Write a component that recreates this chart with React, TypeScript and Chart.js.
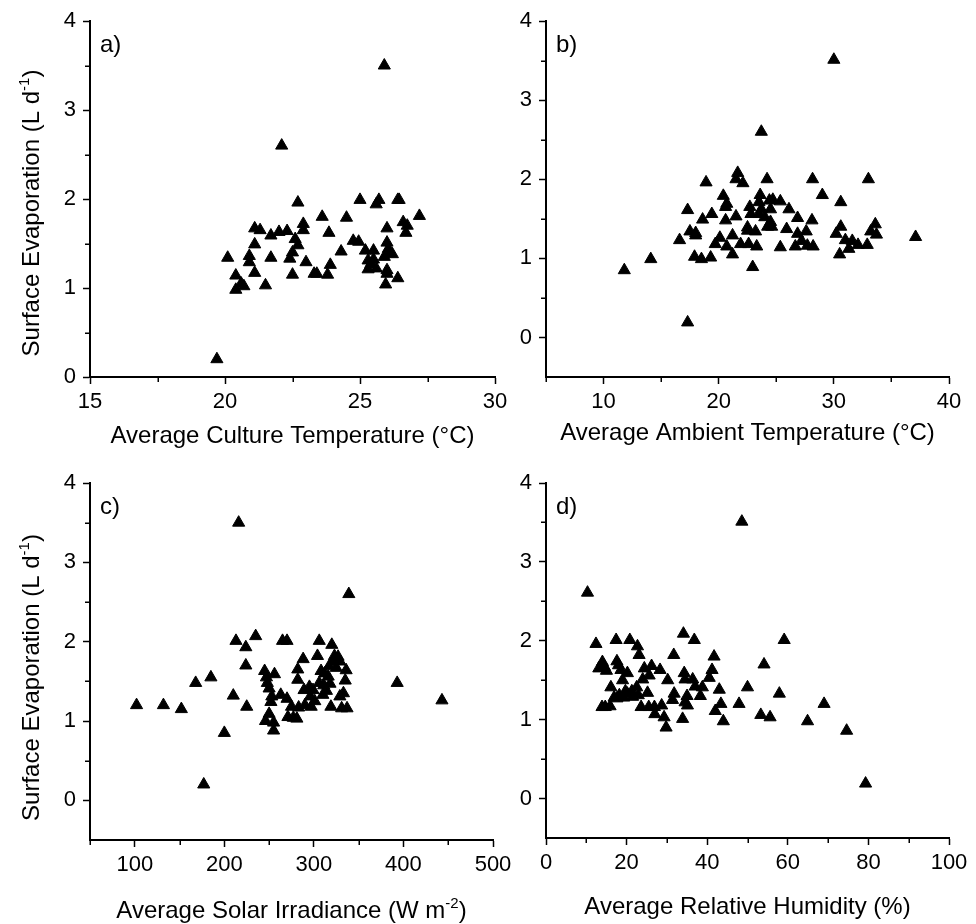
import React, { useEffect, useRef } from "react";
import { Chart, registerables } from "chart.js";

Chart.register(...registerables);

const FONT = "'Liberation Sans', Arial, Helvetica, sans-serif";

// ---------- Data ----------
// a) Average culture temperature (°C) vs surface evaporation (L d-1)
const cultureTemp = [
  19.7, 25.9, 22.1, 20.1, 20.4, 20.4, 20.6, 20.7, 20.9, 20.9, 21.1, 21.1, 21.1, 21.3, 21.5,
  21.7, 21.7, 22.0, 22.3, 22.4, 22.5, 22.5, 22.6, 22.7, 22.7, 22.9, 22.9, 23.0, 23.3, 23.4,
  23.6, 23.8, 23.85, 23.9, 24.3, 24.5, 24.75, 24.95, 25.0, 25.2, 25.3, 25.3, 25.4, 25.5, 25.5,
  25.6, 25.6, 25.7, 25.9, 25.95, 26.0, 26.0, 26.0, 26.05, 26.1, 26.0, 26.2, 26.4, 26.45, 26.4,
  26.6, 26.7, 26.75, 27.2,
];
const evapA = [
  0.2, 3.5, 2.6, 1.34, 1.14, 0.98, 1.05, 1.02, 1.36, 1.29, 1.17, 1.49, 1.67, 1.65, 1.03,
  1.59, 1.34, 1.63, 1.64, 1.33, 1.40, 1.15, 1.55, 1.48, 1.96, 1.72, 1.65, 1.29, 1.16, 1.16,
  1.80, 1.15, 1.62, 1.26, 1.41, 1.79, 1.53, 1.52, 1.99, 1.42, 1.31, 1.21, 1.27, 1.42, 1.32,
  1.22, 1.94, 1.99, 1.35, 1.04, 1.67, 1.51, 1.20, 1.44, 1.39, 1.16, 1.38, 1.99, 1.99, 1.11,
  1.74, 1.62, 1.70, 1.81,
];

// b) Average ambient temperature (°C)
const ambientTemp = [
  11.8, 14.1, 17.3, 16.6, 17.3, 17.5, 18.0, 18.0, 17.9, 18.5, 18.6, 18.9, 19.4, 19.3, 19.7,
  20.1, 20.4, 20.6, 20.7, 20.6, 20.7, 21.2, 21.2, 21.5, 21.65, 21.5, 22.1, 21.9, 22.5, 22.5,
  22.6, 22.7, 22.8, 22.95, 23.2, 23.3, 23.5, 23.5, 23.6, 23.7, 23.7, 24.0, 24.2, 24.25, 24.4,
  24.5, 24.5, 24.6, 24.7, 25.35, 25.35, 26.1, 25.9, 26.65, 26.85, 26.85, 27.2, 27.6, 27.7, 28.1,
  28.15, 28.2, 29.0, 30.0, 30.2, 30.6, 30.6, 30.5, 31.0, 31.3, 31.6, 32.1, 32.9, 33.0, 33.2,
  33.6, 33.7, 37.1,
];
const evapB = [
  0.85, 0.99, 0.19, 1.23, 1.61, 1.34, 1.32, 1.29, 1.02, 0.99, 1.49, 1.96, 1.56, 1.01, 1.18,
  1.26, 1.79, 1.65, 1.69, 1.48, 1.15, 1.29, 1.05, 1.53, 2.08, 2.00, 1.95, 1.18, 1.35, 1.39,
  1.18, 1.65, 1.56, 0.89, 1.34, 1.15, 1.71, 1.56, 1.80, 2.60, 1.62, 1.52, 2.00, 1.40, 1.73,
  1.46, 1.62, 1.40, 1.74, 1.72, 1.14, 1.62, 1.37, 1.15, 1.51, 1.31, 1.22, 1.34, 1.16, 1.48,
  2.00, 1.15, 1.80, 3.51, 1.31, 1.71, 1.40, 1.05, 1.23, 1.12, 1.22, 1.17, 1.17, 2.00, 1.34,
  1.43, 1.30, 1.27,
];

// c) Average solar irradiance (W m-2)
const solarIrr = [
  102, 132, 152, 168, 185, 177, 200, 210, 213, 216, 224, 224, 225, 235, 245,
  247, 248, 250, 246, 250, 253, 252, 255, 255, 256, 263, 265, 270, 270, 271,
  275, 277, 281, 282, 282, 283, 288, 289, 290, 295, 296, 297, 299, 301, 304,
  306, 306, 308, 310, 311, 312, 314, 316, 317, 318, 319, 320, 321, 323, 325,
  327, 329, 329, 331, 333, 335, 336, 337, 339, 393, 443,
];
const evapC = [
  1.20, 1.20, 1.15, 1.48, 1.55, 0.20, 0.85, 1.32, 2.01, 3.50, 1.93, 1.70, 1.18, 2.07, 1.63,
  1.55, 1.48, 1.41, 1.00, 1.09, 1.31, 1.24, 0.98, 0.88, 1.59, 1.33, 2.01, 2.01, 1.28, 1.05,
  1.18, 1.04, 1.03, 1.65, 1.52, 1.17, 1.78, 1.39, 1.20, 1.43, 1.31, 1.18, 1.39, 1.25, 1.82,
  2.01, 1.48, 1.63, 1.33, 1.45, 1.60, 1.38, 1.56, 1.69, 1.47, 1.18, 1.96, 1.75, 1.82, 1.67,
  1.81, 1.75, 1.31, 1.16, 1.35, 1.51, 1.64, 1.16, 2.60, 1.48, 1.26,
];

// d) Average relative humidity (%)
const humidity = [
  10.3, 12.4, 13.1, 14.0, 14.5, 15.0, 13.9, 14.7, 15.9, 16.1, 17.4, 17.6, 18.0, 16.9, 17.6,
  18.2, 18.6, 19.0, 19.3, 19.7, 20.2, 20.2, 20.8, 21.3, 21.5, 22.5, 22.7, 23.1, 22.9, 23.6,
  24.0, 24.4, 25.2, 25.5, 25.6, 26.2, 26.9, 27.0, 28.3, 28.7, 29.3, 29.8, 30.2, 31.4, 31.7,
  31.8, 33.9, 34.1, 34.3, 34.5, 34.5, 35.0, 35.1, 36.4, 36.8, 37.0, 38.3, 38.8, 40.5, 41.2,
  41.7, 42.0, 43.0, 43.4, 44.0, 47.9, 48.6, 50.0, 53.3, 54.1, 55.6, 57.9, 59.1, 64.9, 69.0,
  74.6, 79.3,
];
const evapD = [
  2.61, 1.96, 1.65, 1.73, 1.67, 1.62, 1.16, 1.16, 1.17, 1.41, 2.01, 1.74, 1.69, 1.28, 1.27,
  1.31, 1.63, 1.50, 1.28, 1.36, 1.59, 1.33, 2.01, 1.36, 1.29, 1.41, 1.93, 1.82, 1.31, 1.16,
  1.51, 1.65, 1.34, 1.16, 1.56, 1.68, 1.16, 1.07, 1.63, 1.18, 1.03, 0.90, 1.50, 1.25, 1.82,
  1.33, 1.01, 2.09, 1.59, 1.51, 1.22, 1.30, 1.18, 1.51, 2.01, 1.42, 1.30, 1.41, 1.53, 1.63,
  1.80, 1.11, 1.38, 1.20, 0.98, 1.20, 3.51, 1.41, 1.06, 1.70, 1.03, 1.33, 2.01, 0.98, 1.20,
  0.86, 0.19,
];

// ---------- Tick labels ----------
const evapTicks = [0, 1, 2, 3, 4];
const evapMinor = [0.5, 1.5, 2.5, 3.5];
const cultureTicks = [15, 20, 25, 30];
const cultureMinor = [17.5, 22.5, 27.5];
const ambientTicks = [10, 20, 30, 40];
const ambientMinor = [5, 15, 25, 35];
const solarTicks = [100, 200, 300, 400, 500];
const solarMinor = [50, 150, 250, 350, 450];
const humidityTicks = [0, 20, 40, 60, 80, 100];
const humidityMinor = [10, 30, 50, 70, 90];

type Part = { t: string; sup?: boolean };
const yTitle: Part[] = [{ t: "Surface Evaporation (L d" }, { t: "-1", sup: true }, { t: ")" }];

const PANELS = [
  {
    key: "a", label: "a)", xs: cultureTemp, ys: evapA,
    xMin: 15, xMax: 30, yMin: 0, yMax: 4,
    xTicks: cultureTicks, xMinor: cultureMinor, yTicks: evapTicks, yMinor: evapMinor,
    xTitle: [{ t: "Average Culture Temperature (°C)" }] as Part[], yTitle,
    left: 0, top: 0, w: 520, h: 456, padTop: 21, padRight: 25, yW: 90, xH: 79,
    xTitleBase: 443, yTitleX: 39, yTitleDy: 14,
  },
  {
    key: "b", label: "b)", xs: ambientTemp, ys: evapB,
    xMin: 5, xMax: 40, yMin: -0.5, yMax: 4,
    xTicks: ambientTicks, xMinor: ambientMinor, yTicks: evapTicks, yMinor: evapMinor,
    xTitle: [{ t: "Average Ambient Temperature (°C)" }] as Part[], yTitle: null,
    left: 488, top: 0, w: 488, h: 456, padTop: 21, padRight: 27, yW: 58, xH: 79,
    xTitleBase: 440, yTitleX: 0, yTitleDy: 0,
  },
  {
    key: "c", label: "c)", xs: solarIrr, ys: evapC,
    xMin: 50, xMax: 500, yMin: -0.5, yMax: 4,
    xTicks: solarTicks, xMinor: solarMinor, yTicks: evapTicks, yMinor: evapMinor,
    xTitle: [{ t: "Average Solar Irradiance (W m" }, { t: "-2", sup: true }, { t: ")" }] as Part[], yTitle,
    left: 0, top: 440, w: 520, h: 484, padTop: 43, padRight: 27, yW: 90, xH: 84,
    xTitleBase: 478, yTitleX: 39, yTitleDy: 16,
  },
  {
    key: "d", label: "d)", xs: humidity, ys: evapD,
    xMin: 0, xMax: 100, yMin: -0.5, yMax: 4,
    xTicks: humidityTicks, xMinor: humidityMinor, yTicks: evapTicks, yMinor: evapMinor,
    xTitle: [{ t: "Average Relative Humidity (%)" }] as Part[], yTitle: null,
    left: 488, top: 440, w: 488, h: 484, padTop: 43, padRight: 27, yW: 58, xH: 86,
    xTitleBase: 474, yTitleX: 0, yTitleDy: 0,
  },
];

const TICK_SIZE = 22;
const TITLE_SIZE = 24;

function drawRich(ctx: CanvasRenderingContext2D, parts: Part[], cx: number, base: number, size: number) {
  const mainF = `${size}px ${FONT}`;
  const supF = `${Math.round(size * 0.62)}px ${FONT}`;
  let total = 0;
  const widths: number[] = [];
  for (const p of parts) {
    ctx.font = p.sup ? supF : mainF;
    const w = ctx.measureText(p.t).width;
    widths.push(w);
    total += w;
  }
  let x = cx - total / 2;
  ctx.textAlign = "left";
  ctx.textBaseline = "alphabetic";
  parts.forEach((p, i) => {
    ctx.font = p.sup ? supF : mainF;
    ctx.fillText(p.t, x, p.sup ? base - size * 0.42 : base);
    x += widths[i];
  });
}

const decorPlugin = {
  id: "decor",
  afterDraw(chart: any) {
    const o = chart.options.plugins.decor;
    const { ctx, chartArea } = chart;
    const xs = chart.scales.x;
    const ys = chart.scales.y;
    ctx.save();
    ctx.strokeStyle = "#000";
    ctx.fillStyle = "#000";
    ctx.lineWidth = 1.5;
    ctx.beginPath();
    for (const v of o.xMinor) {
      const px = Math.round(xs.getPixelForValue(v)) + 0.25;
      ctx.moveTo(px, chartArea.bottom);
      ctx.lineTo(px, chartArea.bottom + 5);
    }
    for (const v of o.yMinor) {
      const py = Math.round(ys.getPixelForValue(v)) + 0.25;
      ctx.moveTo(chartArea.left - 5, py);
      ctx.lineTo(chartArea.left, py);
    }
    ctx.stroke();

    // panel label
    ctx.font = `24px ${FONT}`;
    ctx.textAlign = "left";
    ctx.textBaseline = "alphabetic";
    ctx.fillText(o.label, chartArea.left + 10, chartArea.top + 31);

    // x title
    drawRich(ctx, o.xTitle, (chartArea.left + chartArea.right) / 2, o.xTitleBase, TITLE_SIZE);

    // y title
    if (o.yTitle) {
      ctx.translate(o.yTitleX, (chartArea.top + chartArea.bottom) / 2 + o.yTitleDy);
      ctx.rotate(-Math.PI / 2);
      drawRich(ctx, o.yTitle, 0, 0, TITLE_SIZE);
    }
    ctx.restore();
  },
};

function Panel({ p }: { p: (typeof PANELS)[number] }) {
  const ref = useRef<HTMLCanvasElement>(null);
  useEffect(() => {
    const tickFont = { family: FONT, size: TICK_SIZE };
    const grid = {
      display: true,
      drawOnChartArea: false,
      drawTicks: true,
      tickLength: 7,
      tickWidth: 1.5,
      tickColor: "#000",
    };
    const border = { display: true, color: "#000", width: 2 };
    const chart = new Chart(ref.current as HTMLCanvasElement, {
      type: "scatter",
      data: {
        datasets: [
          {
            data: p.xs.map((x, i) => ({ x, y: p.ys[i] })),
            pointStyle: "triangle",
            radius: 7,
            hoverRadius: 7,
            backgroundColor: "#000",
            borderColor: "#000",
            borderWidth: 1,
          },
        ],
      },
      options: {
        responsive: false,
        animation: false,
        devicePixelRatio: 1,
        layout: { padding: { top: p.padTop, right: p.padRight, bottom: 0, left: 0 } },
        plugins: {
          legend: { display: false },
          tooltip: { enabled: false },
          decor: {
            label: p.label,
            xMinor: p.xMinor,
            yMinor: p.yMinor,
            xTitle: p.xTitle,
            yTitle: p.yTitle,
            xTitleBase: p.xTitleBase,
            yTitleX: p.yTitleX,
            yTitleDy: p.yTitleDy,
          },
        } as any,
        scales: {
          x: {
            type: "linear",
            position: "bottom",
            min: p.xMin,
            max: p.xMax,
            afterBuildTicks: (s: any) => {
              s.ticks = p.xTicks.map((v) => ({ value: v }));
            },
            afterFit: (s: any) => {
              s.height = p.xH;
            },
            ticks: {
              font: tickFont,
              color: "#000",
              padding: 5,
              maxRotation: 0,
              autoSkip: false,
              callback: (v: any) => String(v),
            },
            grid,
            border,
          },
          y: {
            type: "linear",
            position: "left",
            min: p.yMin,
            max: p.yMax,
            afterBuildTicks: (s: any) => {
              s.ticks = p.yTicks.map((v) => ({ value: v }));
            },
            afterFit: (s: any) => {
              s.width = p.yW;
            },
            ticks: {
              font: tickFont,
              color: "#000",
              padding: 7,
              autoSkip: false,
              callback: (v: any) => String(v),
            },
            grid,
            border,
          },
        },
      } as any,
      plugins: [decorPlugin],
    });
    return () => chart.destroy();
  }, []);
  return (
    <canvas
      ref={ref}
      width={p.w}
      height={p.h}
      style={{ position: "absolute", left: p.left, top: p.top, width: p.w, height: p.h }}
    />
  );
}

export default function App() {
  return (
    <div style={{ position: "absolute", left: 0, top: 0, width: 976, height: 924, background: "#fff" }}>
      {PANELS.map((p) => (
        <Panel key={p.key} p={p} />
      ))}
    </div>
  );
}
